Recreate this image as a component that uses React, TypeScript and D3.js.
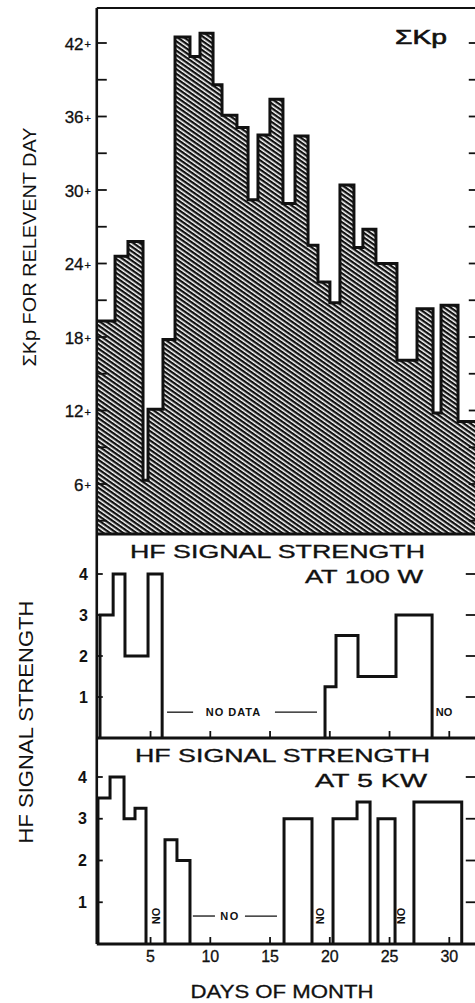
import * as d3 from "d3";
import React from "react";

// ΣKp for each day: step edges (days) and the level held between two edges
const kpEdges = [0.5, 2.03, 3.11, 4.37, 4.79, 6.04, 7.05, 8.3, 9.14, 10.23, 10.98, 12.23, 13.16, 13.99, 14.99, 16.08, 17.09, 18.18, 19.01, 20.01, 20.85, 22.02, 22.77, 23.86, 25.62, 27.3, 28.64, 29.31, 30.73, 32.4];
const kpValues = [19.3, 24.6, 25.8, 6.3, 12.1, 17.8, 42.5, 40.9, 42.8, 38.6, 36.1, 35.1, 29.2, 34.5, 37.4, 28.9, 34.4, 25.5, 22.5, 20.8, 30.4, 25.3, 26.8, 24.0, 16.1, 20.3, 11.8, 20.6, 11.1];
const kpTicks = [6, 12, 18, 24, 30, 36, 42];

// HF signal strength at 100 W, one run per stretch with data
const hf100Edges = [
  [0.77, 1.87, 2.86, 4.79, 5.97],
  [19.6, 20.52, 22.36, 25.54, 28.56],
];
const hf100Values = [
  [3, 4, 2, 4],
  [1.25, 2.5, 1.5, 3],
];

// HF signal strength at 5 kW
const hf5Edges = [
  [0.6, 1.61, 2.78, 3.7, 4.62],
  [6.21, 7.21, 8.3],
  [16.17, 18.51],
  [20.27, 22.28, 23.37],
  [24.03, 25.46],
  [27.04, 31.04],
];
const hf5Values = [
  [3.5, 4, 3, 3.25],
  [2.5, 2],
  [3],
  [3, 3.4],
  [3],
  [3.4],
];

const hfTicks = [1, 2, 3, 4];
const dayTicks = [5, 10, 15, 20, 25, 30];

const W = 475;
const H = 1003;
const FONT = "'Liberation Sans', Arial, Helvetica, sans-serif";
const INK = "#111";

export default function App() {
  const x = d3.scaleLinear().domain([0, 30]).range([90.8, 449.3]);
  const left = x(0.5);
  const right = x(32.3);

  // panels
  const topY = 8;
  const kpBottom = 534;
  const hfAbottom = 738;
  const hfBbottom = 944;

  const yKp = d3.scaleLinear().domain([6, 42]).range([484, 43]);
  const yA = d3.scaleLinear().domain([0, 4]).range([hfAbottom, 574]);
  const yB = d3.scaleLinear().domain([0, 4]).range([hfBbottom, 777]);

  // ΣKp histogram
  const kpPts: [number, number][] = kpEdges.map((e, i) => [e, kpValues[Math.min(i, kpValues.length - 1)]]);
  const kpArea = d3
    .area<[number, number]>()
    .x((d) => x(d[0]))
    .y0(kpBottom)
    .y1((d) => yKp(d[1]))
    .curve(d3.curveStepAfter)(kpPts);
  const kpLine = d3
    .line<[number, number]>()
    .x((d) => x(d[0]))
    .y((d) => yKp(d[1]))
    .curve(d3.curveStepAfter)(kpPts);

  // step runs that start and end on zero
  const runPath = (edges: number[], values: number[], y: d3.ScaleLinear<number, number>) => {
    const pts: [number, number][] = [[edges[0], 0]];
    values.forEach((v, i) => {
      pts.push([edges[i], v]);
      pts.push([edges[i + 1], v]);
    });
    pts.push([edges[edges.length - 1], 0]);
    return d3
      .line<[number, number]>()
      .x((d) => x(d[0]))
      .y((d) => y(d[1]))(pts);
  };

  const kpMinor = d3.range(3, 45, 3);

  const noLabel = (day: number, val: number, y: d3.ScaleLinear<number, number>, key: string) => (
    <text
      key={key}
      transform={`translate(${x(day)},${y(val)}) rotate(-90)`}
      textAnchor="middle"
      dominantBaseline="central"
      fontSize={11}
      fontWeight="bold"
      fill={INK}
    >
      NO
    </text>
  );

  return (
    <svg width={W} height={H} style={{ position: "absolute", left: 0, top: 0, background: "#fff" }} fontFamily={FONT}>
      <defs>
        <pattern id="hatch" patternUnits="userSpaceOnUse" width={8} height={3.8} patternTransform="rotate(35)">
          <rect width={8} height={3.8} fill="#fff" />
          <rect width={8} height={2.3} fill={INK} />
        </pattern>
      </defs>
      <rect width={W} height={H} fill="#fff" />

      {/* ΣKp panel */}
      <path d={kpArea ?? ""} fill="url(#hatch)" />
      <path d={kpLine ?? ""} fill="none" stroke={INK} strokeWidth={3} />
      <line x1={left} x2={W} y1={topY} y2={topY} stroke={INK} strokeWidth={2} />
      {kpMinor.map((t) => (
        <g key={t}>
          <line x1={left} x2={left + 10} y1={yKp(t)} y2={yKp(t)} stroke={INK} strokeWidth={1.8} />
          <line x1={right - 8} x2={right} y1={yKp(t)} y2={yKp(t)} stroke={INK} strokeWidth={1.8} />
        </g>
      ))}
      {kpTicks.map((t) => (
        <text key={t} x={91} y={yKp(t) + 1} textAnchor="end" dominantBaseline="central" fontSize={17} fill={INK} stroke={INK} strokeWidth={0.3}>
          {t}
          <tspan fontSize={11} dx={1}>+</tspan>
        </text>
      ))}
      <text x={395} y={44} fontSize={20} textLength={52} lengthAdjust="spacingAndGlyphs" fill={INK} stroke={INK} strokeWidth={0.6}>
        ΣKp
      </text>
      <line x1={left} x2={W} y1={kpBottom} y2={kpBottom} stroke={INK} strokeWidth={3} />

      {/* HF 100 W panel */}
      {hf100Edges.map((e, i) => (
        <path key={i} d={runPath(e, hf100Values[i], yA) ?? ""} fill="none" stroke={INK} strokeWidth={3} />
      ))}
      <text x={130} y={558} fontSize={18} textLength={295} lengthAdjust="spacingAndGlyphs" fill={INK} stroke={INK} strokeWidth={0.35}>
        HF SIGNAL STRENGTH
      </text>
      <text x={305} y={583} fontSize={18} textLength={118} lengthAdjust="spacingAndGlyphs" fill={INK} stroke={INK} strokeWidth={0.35}>
        AT 100 W
      </text>
      <g fontSize={11} fontWeight="bold" fill={INK} stroke={INK} strokeWidth={1.3}>
        <line x1={x(6.38)} x2={x(8.56)} y1={yA(0.63)} y2={yA(0.63)} />
        <line x1={x(15.41)} x2={x(18.93)} y1={yA(0.63)} y2={yA(0.63)} />
        <text x={x(11.94)} y={yA(0.63)} textAnchor="middle" dominantBaseline="central" stroke="none" letterSpacing={1}>
          NO DATA
        </text>
        <text x={x(29.56)} y={yA(0.63)} textAnchor="middle" dominantBaseline="central" stroke="none">
          NO
        </text>
      </g>
      {hfTicks.map((t) => (
        <g key={t}>
          <line x1={left} x2={left + 6} y1={yA(t)} y2={yA(t)} stroke={INK} strokeWidth={1.8} />
          <line x1={right - 11} x2={right} y1={yA(t)} y2={yA(t)} stroke={INK} strokeWidth={1.8} />
          <text x={88} y={yA(t)} textAnchor="end" dominantBaseline="central" fontSize={16} fontWeight="bold" fill={INK}>
            {t}
          </text>
        </g>
      ))}
      {dayTicks.map((d) => (
        <line key={d} x1={x(d)} x2={x(d)} y1={hfAbottom} y2={hfAbottom - 7} stroke={INK} strokeWidth={1.8} />
      ))}
      <line x1={left} x2={W} y1={hfAbottom} y2={hfAbottom} stroke={INK} strokeWidth={3} />

      {/* HF 5 kW panel */}
      {hf5Edges.map((e, i) => (
        <path key={i} d={runPath(e, hf5Values[i], yB) ?? ""} fill="none" stroke={INK} strokeWidth={3} />
      ))}
      <text x={135} y={762} fontSize={19} textLength={295} lengthAdjust="spacingAndGlyphs" fill={INK} stroke={INK} strokeWidth={0.35}>
        HF SIGNAL STRENGTH
      </text>
      <text x={315} y={787} fontSize={19} textLength={112} lengthAdjust="spacingAndGlyphs" fill={INK} stroke={INK} strokeWidth={0.35}>
        AT 5 KW
      </text>
      <g fontSize={11} fontWeight="bold" fill={INK} stroke={INK} strokeWidth={1.3}>
        <line x1={x(8.54)} x2={x(10.39)} y1={yB(0.67)} y2={yB(0.67)} />
        <line x1={x(12.9)} x2={x(15.58)} y1={yB(0.67)} y2={yB(0.67)} />
        <text x={x(11.65)} y={yB(0.67)} textAnchor="middle" dominantBaseline="central" stroke="none" letterSpacing={1.5}>
          NO
        </text>
      </g>
      {noLabel(5.46, 0.67, yB, "n1")}
      {noLabel(19.18, 0.67, yB, "n2")}
      {noLabel(25.96, 0.67, yB, "n3")}
      {hfTicks.map((t) => (
        <g key={t}>
          <line x1={left} x2={left + 6} y1={yB(t)} y2={yB(t)} stroke={INK} strokeWidth={1.8} />
          <line x1={right - 11} x2={right} y1={yB(t)} y2={yB(t)} stroke={INK} strokeWidth={1.8} />
          <text x={87} y={yB(t)} textAnchor="end" dominantBaseline="central" fontSize={16} fontWeight="bold" fill={INK}>
            {t}
          </text>
        </g>
      ))}
      {dayTicks.map((d) => (
        <g key={d}>
          <line x1={x(d)} x2={x(d)} y1={hfBbottom} y2={hfBbottom - 7} stroke={INK} strokeWidth={1.8} />
          <text x={x(d)} y={962} textAnchor="middle" fontSize={16} fill={INK} stroke={INK} strokeWidth={0.3}>
            {d}
          </text>
        </g>
      ))}
      <line x1={left} x2={W} y1={hfBbottom} y2={hfBbottom} stroke={INK} strokeWidth={3} />

      {/* axes frame: right axis sits just past the cropped edge, only its ticks show */}
      <line x1={left} x2={left} y1={topY} y2={hfBbottom} stroke={INK} strokeWidth={2.6} />
      <line x1={right + 1.5} x2={right + 1.5} y1={topY} y2={hfBbottom} stroke={INK} strokeWidth={3} />

      {/* axis titles */}
      <text transform="translate(36,247) rotate(-90)" textAnchor="middle" fontSize={19} textLength={239} lengthAdjust="spacingAndGlyphs" fill={INK}>
        ΣKp FOR RELEVENT DAY
      </text>
      <text transform="translate(33,722) rotate(-90)" textAnchor="middle" fontSize={21} textLength={243} lengthAdjust="spacingAndGlyphs" fill={INK}>
        HF SIGNAL STRENGTH
      </text>
      <text x={282} y={998} textAnchor="middle" fontSize={18} textLength={183} lengthAdjust="spacingAndGlyphs" fill={INK} stroke={INK} strokeWidth={0.3}>
        DAYS OF MONTH
      </text>
    </svg>
  );
}
